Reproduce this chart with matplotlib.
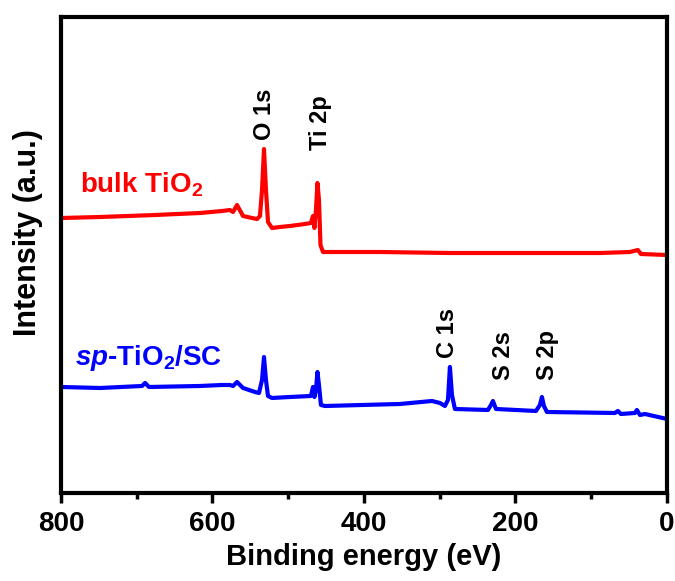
import numpy as np
import matplotlib
matplotlib.use("Agg")
import matplotlib.pyplot as plt
from matplotlib.ticker import MultipleLocator

plt.rcParams['font.family'] = ['Liberation Sans', 'DejaVu Sans']
plt.rcParams['font.weight'] = 'bold'
plt.rcParams['mathtext.fontset'] = 'custom'
plt.rcParams['mathtext.rm'] = 'Liberation Sans:bold'
plt.rcParams['mathtext.bf'] = 'Liberation Sans:bold'
plt.rcParams['mathtext.it'] = 'Liberation Sans:bold:italic'

# binding energy (eV) / intensity (a.u.)
bulk_be = [800, 748.5, 675.9, 616.5, 587.4, 576.9, 572.9, 567.6, 559.7, 547.8,
           541.2, 537.3, 534.6, 532.0, 529.4, 526.7, 521.4, 510.9, 497.7, 477.9,
           470.0, 467.3, 465.4, 463.4, 461.4, 459.4, 457.4, 454.1, 378.9, 286.5,
           88.4, 48.8, 38.3, 34.3, 0]
bulk_int = [275, 276, 278, 280, 282, 283, 281, 288, 277, 275,
            274, 277, 303, 344, 303, 271, 265, 266, 267, 269,
            270, 277, 265, 283, 310, 293, 248, 241, 241, 240,
            240, 241, 243, 239, 238]

sp_be = [800, 748.5, 693.0, 689.0, 683.8, 616.5, 587.4, 576.9, 572.9, 567.6,
         559.7, 543.9, 538.6, 534.6, 532.0, 529.4, 526.7, 521.4, 497.7, 470.0,
         467.3, 465.4, 463.4, 461.4, 459.4, 456.8, 451.5, 352.5, 310.2, 299.7,
         293.1, 289.1, 286.5, 283.8, 279.9, 236.3, 232.3, 229.7, 225.7, 172.9,
         167.7, 165.0, 162.4, 158.4, 68.6, 64.7, 60.7, 42.2, 39.6, 35.6,
         29.0, 0]
sp_int = [106, 105, 107, 110, 106, 107, 108, 108, 107, 111,
          105, 101, 100, 113, 136, 113, 97, 95, 96, 97,
          106, 96, 103, 121, 108, 88, 87, 89, 92, 90,
          87, 93, 126, 98, 84, 83, 88, 92, 84, 82,
          88, 96, 87, 81, 80, 82, 79, 80, 83, 78,
          79, 74]

peak_labels = ['O 1s', 'Ti 2p', 'C 1s', 'S 2s', 'S 2p']
peak_be = [531, 458, 290, 216, 157]
peak_y = [353, 343, 135, 113, 113]

fig = plt.figure(figsize=(6.75, 5.81), dpi=100)
ax = fig.add_axes([0.0904, 0.1515, 0.8976, 0.8192])

ax.plot(bulk_be, bulk_int, color='#ff0000', lw=3)
ax.plot(sp_be, sp_int, color='#0000ff', lw=3)

for lab, x, y in zip(peak_labels, peak_be, peak_y):
    ax.text(x, y, lab, rotation=90, ha='center', va='bottom',
            fontsize=17, fontweight='bold')

ax.text(775, 301, r'bulk TiO$_\mathrm{2}$', color='#ff0000', fontsize=20,
        fontweight='bold', ha='left', va='baseline')
ax.text(781, 128, r'$\mathit{sp}$-TiO$_\mathrm{2}$/SC', color='#0000ff',
        fontsize=20, fontweight='bold', ha='left', va='baseline')

ax.set_xlim(800, 0)
ax.set_ylim(0, 476)
ax.xaxis.set_major_locator(MultipleLocator(200))
ax.xaxis.set_minor_locator(MultipleLocator(100))
ax.set_yticks([])
ax.tick_params(axis='x', which='major', direction='out', length=7, width=2.5,
               labelsize=20, pad=6)
ax.tick_params(axis='x', which='minor', direction='out', length=4, width=2.5)
for s in ax.spines.values():
    s.set_linewidth(3)

ax.set_xlabel('Binding energy (eV)', fontsize=21, fontweight='bold', labelpad=4)
ax.set_ylabel('Intensity (a.u.)', fontsize=22, fontweight='bold')
ax.yaxis.set_label_coords(-0.03, 0.548)

fig.savefig('out.png', dpi=100)
